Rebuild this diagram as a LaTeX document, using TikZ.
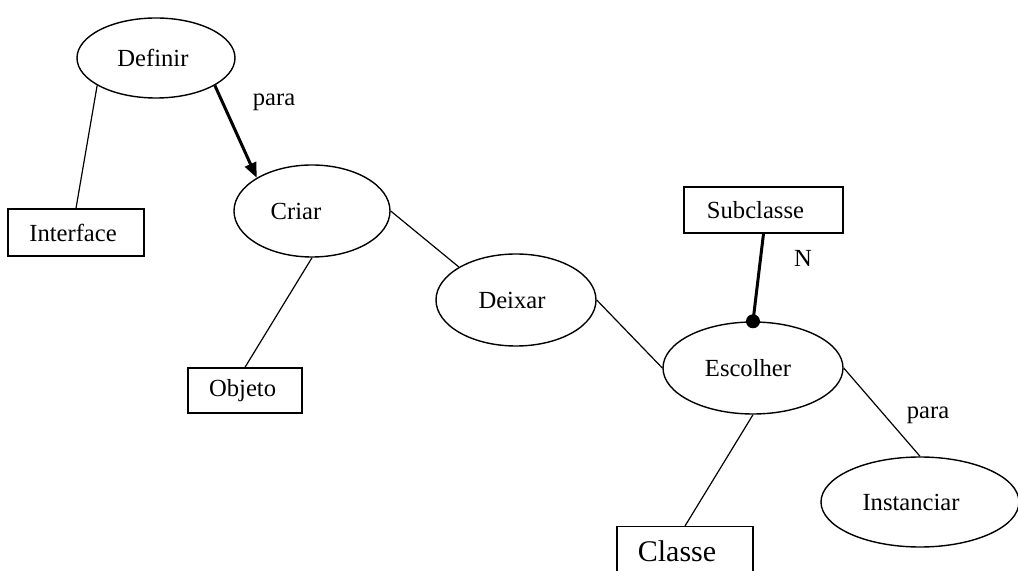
\documentclass[tikz,border=0pt]{standalone}
\usepackage{fontspec}
\setmainfont{Liberation Serif}
\usetikzlibrary{shapes.geometric,arrows.meta}
\newcommand{\txtshift}[2]{\kern-#1\relax #2\kern#1\relax}
\begin{document}
\begin{tikzpicture}[x=0.5pt,y=-0.5pt,
  every node/.style={font=\fontsize{12.3pt}{14pt}\selectfont},
  ell/.style={ellipse,draw,line width=0.7pt,inner sep=0pt},
  box/.style={rectangle,draw,line width=0.7pt,inner sep=0pt},
  conn/.style={line width=0.6pt},
  thickconn/.style={line width=1.5pt},
  lbl/.style={inner sep=0pt}]
\useasboundingbox (0,0) rectangle (1018,571);
\node[ell,minimum width=79pt,minimum height=40pt] (definir) at (156,58) {\txtshift{1.5pt}{Definir}};
\node[box,minimum width=68pt,minimum height=23.5pt] (interface) at (76,232.5) {\txtshift{1.5pt}{Interface}};
\node[ell,minimum width=78pt,minimum height=46pt] (criar) at (312,211) {\txtshift{8pt}{Criar}};
\node[box,minimum width=57pt,minimum height=22.5pt] (objeto) at (245,390.5) {\txtshift{1.2pt}{Objeto}};
\node[ell,minimum width=80pt,minimum height=46pt] (deixar) at (516,300) {\txtshift{2pt}{Deixar}};
\node[ell,minimum width=90pt,minimum height=46pt] (escolher) at (753,368) {\txtshift{2.5pt}{Escolher}};
\node[box,minimum width=79.5pt,minimum height=23pt] (subclasse) at (763.5,210) {\txtshift{4pt}{Subclasse}};
\node[box,anchor=north,minimum width=68pt,text height=10.2pt,text depth=3pt,inner ysep=7pt,
  font=\fontsize{15pt}{17pt}\selectfont] (classe) at (685,526) {\txtshift{4pt}{Classe}};
\node[ell,minimum width=99pt,minimum height=45pt] (instanciar) at (920,502) {\txtshift{4.5pt}{Instanciar}};
\node[lbl] (para1) at (274,102) {para};
\node[lbl] (nlab) at (803,258) {N};
\node[lbl] (para2) at (928,415) {para};
\draw[conn] (definir.205) -- (interface.north);
\draw[thickconn,-{Triangle[length=7.5pt,width=6pt]}] (definir.335) -- (criar.149);
\draw[conn] (criar.south) -- (objeto.north);
\draw[conn] (criar.east) -- (deixar.150);
\draw[conn] (deixar.east) -- (escolher.west);
\draw[thickconn] (subclasse.south) -- (escolher.north);
\fill (escolher.north) circle[radius=3.5pt];
\draw[conn] (escolher.south) -- (classe.north);
\draw[conn] (escolher.east) -- (instanciar.north);
\end{tikzpicture}
\end{document}
